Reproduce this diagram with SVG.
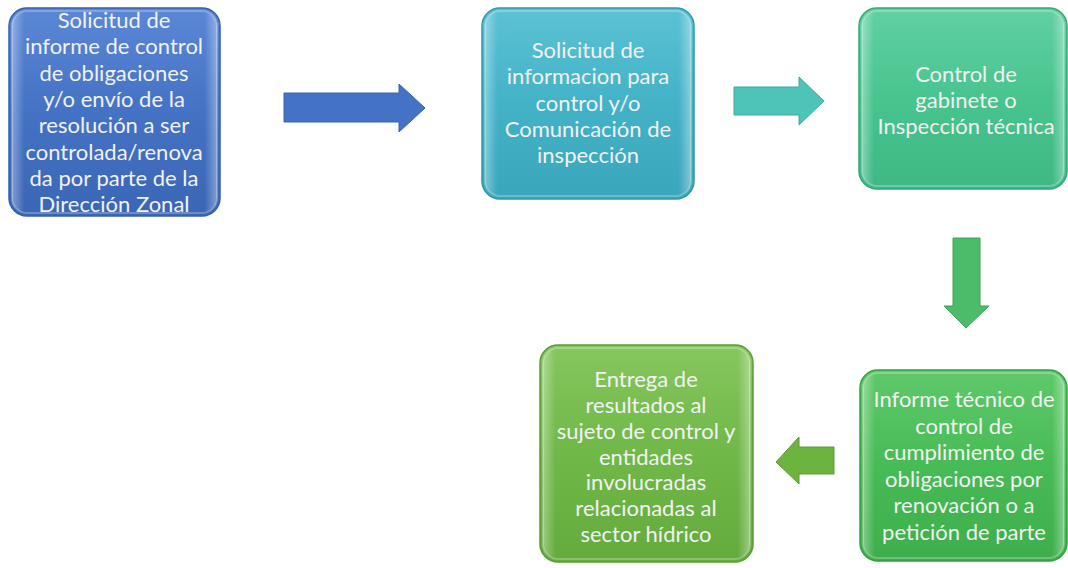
<svg xmlns="http://www.w3.org/2000/svg" width="1068" height="568" viewBox="0 0 1068 568">
<defs>
<linearGradient id="gBlue" x1="0" y1="0" x2="0" y2="1"><stop offset="0" stop-color="#5b87d6"/><stop offset="0.5" stop-color="#4472c4"/><stop offset="1" stop-color="#3b66b5"/></linearGradient>
<linearGradient id="gTeal" x1="0" y1="0" x2="0" y2="1"><stop offset="0" stop-color="#5cc2d4"/><stop offset="0.5" stop-color="#43b2c7"/><stop offset="1" stop-color="#3aa6bb"/></linearGradient>
<linearGradient id="gMint" x1="0" y1="0" x2="0" y2="1"><stop offset="0" stop-color="#62d0a2"/><stop offset="0.5" stop-color="#48c48f"/><stop offset="1" stop-color="#3eb884"/></linearGradient>
<linearGradient id="gGreen" x1="0" y1="0" x2="0" y2="1"><stop offset="0" stop-color="#5fc96b"/><stop offset="0.5" stop-color="#47bb55"/><stop offset="1" stop-color="#3dae4b"/></linearGradient>
<linearGradient id="gLime" x1="0" y1="0" x2="0" y2="1"><stop offset="0" stop-color="#86c65e"/><stop offset="0.5" stop-color="#70b848"/><stop offset="1" stop-color="#64ab3d"/></linearGradient>
<linearGradient id="sheen" x1="0" y1="0" x2="1" y2="0"><stop offset="0" stop-color="#ffffff" stop-opacity="0.35"/><stop offset="0.06" stop-color="#ffffff" stop-opacity="0"/><stop offset="0.94" stop-color="#ffffff" stop-opacity="0"/><stop offset="1" stop-color="#ffffff" stop-opacity="0.35"/></linearGradient>
</defs>
<style>
.box{stroke-width:1.5}
.bev{fill:url(#sheen);stroke:#ffffff;stroke-opacity:0.25;stroke-width:2}
.t{font-family:Lato,"Open Sans","Liberation Sans",sans-serif;font-size:22px;fill:#f2f2f2;text-anchor:middle}
</style>
<g id="connectors">
<polygon points="284,93 399,93 399,84 425,108 399,132 399,122 284,122" fill="#4472c4" stroke="#3a63ad" stroke-width="1"/>
<polygon points="734,87 799,87 799,77 824,101 799,125 799,115 734,115" fill="#4ec4b8" stroke="#40a99e" stroke-width="1"/>
<polygon points="953,238 980,238 980,306 989,306 966,328 944,306 953,306" fill="#4cbb6a" stroke="#3fa259" stroke-width="1"/>
<polygon points="834,447 834,474 799,474 799,484 776,462 799,437 799,447" fill="#6cb33f" stroke="#5c9b35" stroke-width="1"/>
</g>
<g id="n1">
<rect x="9" y="8" width="211" height="208" rx="18" fill="url(#gBlue)" stroke="#3560ad" class="box"/>
<rect x="12" y="11" width="205" height="202" rx="15" class="bev"/>
<text class="t" x="114" y="28">Solicitud de</text>
<text class="t" x="114" y="54">informe de control</text>
<text class="t" x="114" y="81">de obligaciones</text>
<text class="t" x="114" y="107">y/o envío de la</text>
<text class="t" x="114" y="133">resolución a ser</text>
<text class="t" x="114" y="160">controlada/renova</text>
<text class="t" x="114" y="186">da por parte de la</text>
<text class="t" x="114" y="212">Dirección Zonal</text>
</g>
<g id="n2">
<rect x="482" y="8" width="212" height="191" rx="18" fill="url(#gTeal)" stroke="#3397aa" class="box"/>
<rect x="485" y="11" width="206" height="185" rx="15" class="bev"/>
<text class="t" x="588" y="58">Solicitud de</text>
<text class="t" x="588" y="84">informacion para</text>
<text class="t" x="588" y="111">control y/o</text>
<text class="t" x="588" y="137">Comunicación de</text>
<text class="t" x="588" y="163">inspección</text>
</g>
<g id="n3">
<rect x="859" y="8" width="208" height="181" rx="18" fill="url(#gMint)" stroke="#36a877" class="box"/>
<rect x="862" y="11" width="202" height="175" rx="15" class="bev"/>
<text class="t" x="966" y="82">Control de</text>
<text class="t" x="966" y="108">gabinete o</text>
<text class="t" x="966" y="134">Inspección técnica</text>
</g>
<g id="n4">
<rect x="860" y="370" width="207" height="191" rx="18" fill="url(#gGreen)" stroke="#36a044" class="box"/>
<rect x="863" y="373" width="201" height="185" rx="15" class="bev"/>
<text class="t" x="964" y="407">Informe técnico de</text>
<text class="t" x="964" y="434">control de</text>
<text class="t" x="964" y="460">cumplimiento de</text>
<text class="t" x="964" y="487">obligaciones por</text>
<text class="t" x="964" y="513">renovación o a</text>
<text class="t" x="964" y="540">petición de parte</text>
</g>
<g id="n5">
<rect x="540" y="345" width="213" height="217" rx="18" fill="url(#gLime)" stroke="#5a9c36" class="box"/>
<rect x="543" y="348" width="207" height="211" rx="15" class="bev"/>
<text class="t" x="646" y="387">Entrega de</text>
<text class="t" x="646" y="413">resultados al</text>
<text class="t" x="646" y="439">sujeto de control y</text>
<text class="t" x="646" y="465">entidades</text>
<text class="t" x="646" y="490">involucradas</text>
<text class="t" x="646" y="516">relacionadas al</text>
<text class="t" x="646" y="542">sector hídrico</text>
</g>
</svg>
